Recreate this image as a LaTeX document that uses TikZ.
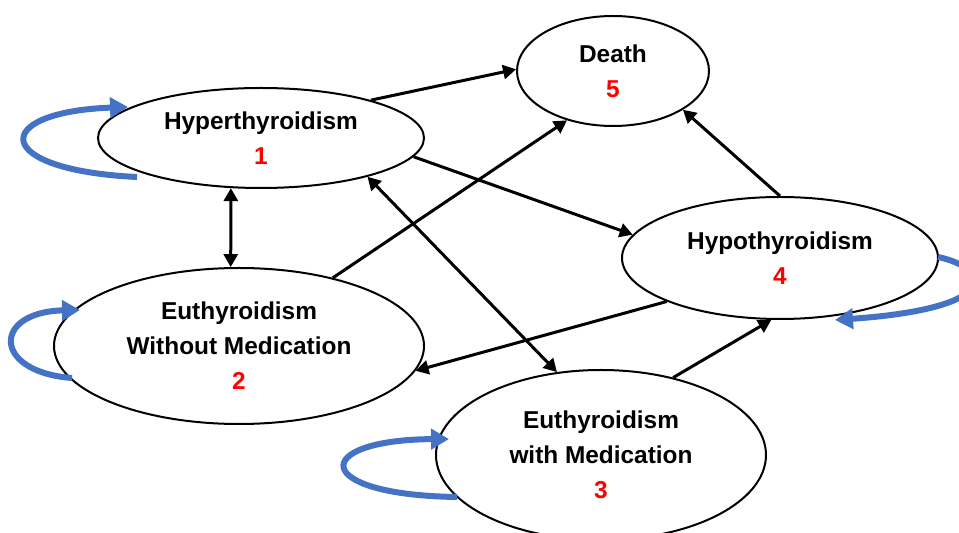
\documentclass[tikz,border=0pt]{standalone}
\usepackage{fontspec}
\setmainfont{Liberation Sans}
\usetikzlibrary{shapes.geometric,arrows.meta}
\definecolor{loopblue}{HTML}{4472C4}
\begin{document}
\begin{tikzpicture}[x=0.5pt,y=-0.5pt,
 state/.style={ellipse,draw,line width=1pt,inner sep=0pt,align=center,font=\fontsize{12.2}{17.5}\selectfont\bfseries},
 conn/.style={line width=1.5pt,-{Triangle[length=6.5pt,width=7pt]}},
 biconn/.style={line width=1.5pt,{Triangle[length=6.5pt,width=7pt]}-{Triangle[length=6.5pt,width=7pt]}},
 selfloop/.style={line width=3pt,draw=loopblue,-{Triangle[length=9pt,width=10pt]}}]
\useasboundingbox (0,0) rectangle (959,533);
\clip (0,0) rectangle (959,533);
\node[state,minimum width=96pt,minimum height=55pt] (death) at (613,71) {Death\\\textcolor{red}{5}};
\node[state,minimum width=163pt,minimum height=50pt] (hyper) at (261,138) {Hyperthyroidism\\\textcolor{red}{1}};
\node[state,minimum width=158pt,minimum height=61pt] (hypo) at (780,258) {Hypothyroidism\\\textcolor{red}{4}};
\node[state,minimum width=185pt,minimum height=78pt] (euwo) at (239,346) {Euthyroidism\\Without Medication\\\textcolor{red}{2}};
\node[state,minimum width=165pt,minimum height=85pt] (euw) at (601,455) {Euthyroidism\\with Medication\\\textcolor{red}{3}};
% connectors
\draw[conn] (hyper.19) -- (death.179);
\draw[conn] (hyper.-7.6) -- (hypo.171);
\draw[biconn] (hyper.-121) -- (euwo.96);
\draw[biconn] (hyper.-20) -- (euw.118);
\draw[conn] (euwo.36) -- (death.227);
\draw[conn] (hypo.90) -- (death.-29);
\draw[conn] (hypo.201) -- (euwo.-8);
\draw[conn] (euw.47) -- (hypo.262);
% self loops
\draw[selfloop] (137,177) .. controls (-10,170) and (-10,112) .. (128,107);
\draw[selfloop] (72,378) .. controls (-8,372) and (-8,312) .. (80,310);
\draw[selfloop] (457,497) .. controls (310,495) and (310,440) .. (449,439);
\draw[selfloop] (938,257) .. controls (990,268) and (1005,308) .. (835,320);
\end{tikzpicture}
\end{document}
